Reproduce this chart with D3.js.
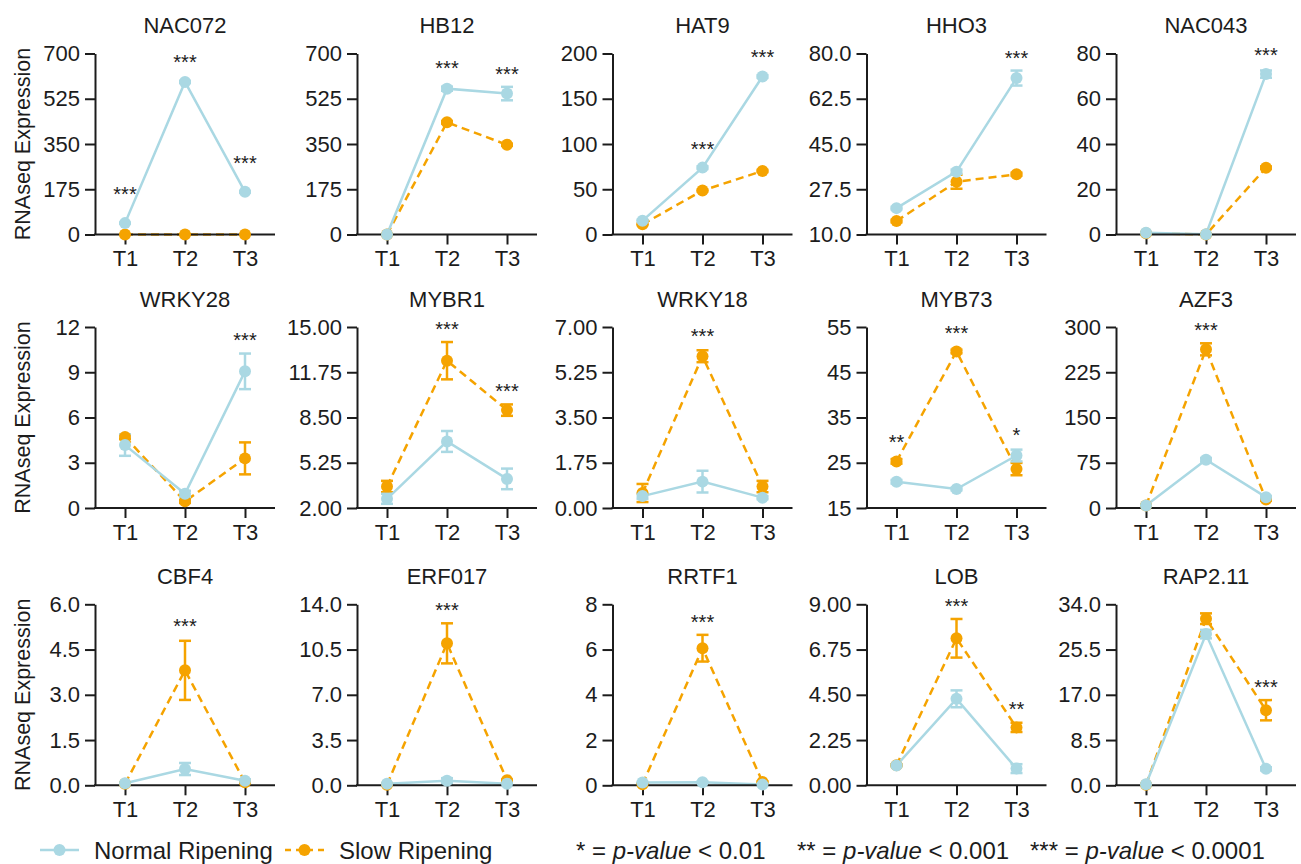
<!DOCTYPE html>
<html>
<head>
<meta charset="utf-8">
<script src="https://d3js.org/d3.v7.min.js"></script>
<style>
  body { margin: 0; background: #fff; }
  svg { display: block; font-family: "Liberation Sans", Arial, Helvetica, sans-serif; }
</style>
</head>
<body>
<svg id="chart" width="1301" height="864"></svg>
<script>
// ---- data ----
const genes = ["NAC072", "HB12", "HAT9", "HHO3", "NAC043",
               "WRKY28", "MYBR1", "WRKY18", "MYB73", "AZF3",
               "CBF4", "ERF017", "RRTF1", "LOB", "RAP2.11"];
const timepoints = ["T1", "T2", "T3"];

const normalMean = [
  [44, 590, 165], [0, 564, 545], [15.3, 73.9, 174.6], [20.2, 34.3, 70.5], [0.8, 0.1, 70.9],
  [4.17, 0.94, 9.06], [2.66, 6.78, 4.09], [0.46, 1.02, 0.40], [20.8, 19.2, 26.6], [4.3, 80, 18],
  [0.07, 0.54, 0.15], [0.12, 0.35, 0.12], [0.12, 0.13, 0.03], [0.99, 4.30, 0.83], [0.2, 28.4, 3.1]
];
const normalErr = [
  [2, 4, 3], [0, 8, 26], [1, 1.5, 1.5], [0.5, 0.8, 2.9], [0.3, 0.1, 1.6],
  [0.71, 0.2, 1.18], [0.36, 0.75, 0.74], [0.1, 0.42, 0.06], [0.4, 0.3, 1.3], [1, 3, 2],
  [0.02, 0.2, 0.05], [0.05, 0.2, 0.05], [0.03, 0.04, 0.02], [0.05, 0.42, 0.22], [0.1, 0.8, 0.3]
];
const slowMean = [
  [0, 0, 0], [0, 434, 347], [11.2, 48.6, 70.2], [15.2, 30.4, 33.3], [0.5, 0, 29.5],
  [4.71, 0.44, 3.29], [3.54, 12.58, 9.03], [0.58, 5.87, 0.83], [25.3, 49.6, 23.6], [4, 263, 14],
  [0.05, 3.81, 0.1], [0.05, 10.98, 0.4], [0.05, 6.06, 0.15], [1.0, 7.31, 2.88], [0.1, 31.3, 14.1]
];
const slowErr = [
  [0, 0, 0], [0, 5, 4], [0.8, 1, 1.2], [0.5, 2.7, 0.6], [0.1, 0, 0.6],
  [0.15, 0.1, 1.06], [0.41, 1.34, 0.41], [0.35, 0.23, 0.22], [0.5, 0.4, 1.36], [1, 10, 2],
  [0.02, 0.98, 0.02], [0.02, 1.55, 0.05], [0.02, 0.59, 0.03], [0.05, 0.96, 0.23], [0.05, 1.0, 1.9]
];

const yDomains = [
  [0, 700], [0, 700], [0, 200], [10, 80], [0, 80],
  [0, 12], [2, 15], [0, 7], [15, 55], [0, 300],
  [0, 6], [0, 14], [0, 8], [0, 9], [0, 34]
];
const yTicks = [
  [0, 175, 350, 525, 700], [0, 175, 350, 525, 700], [0, 50, 100, 150, 200],
  [10, 27.5, 45, 62.5, 80], [0, 20, 40, 60, 80],
  [0, 3, 6, 9, 12], [2, 5.25, 8.5, 11.75, 15], [0, 1.75, 3.5, 5.25, 7],
  [15, 25, 35, 45, 55], [0, 75, 150, 225, 300],
  [0, 1.5, 3, 4.5, 6], [0, 3.5, 7, 10.5, 14], [0, 2, 4, 6, 8],
  [0, 2.25, 4.5, 6.75, 9], [0, 8.5, 17, 25.5, 34]
];
const tickDecimals = [0, 0, 0, 1, 0, 0, 2, 2, 0, 0, 1, 1, 0, 2, 1];

// significance marks per timepoint, and the value level where each sits
const starLabels = [
  ["***", "***", "***"], ["", "***", "***"], ["", "***", "***"], ["", "", "***"], ["", "", "***"],
  ["", "", "***"], ["", "***", "***"], ["", "***", ""], ["**", "***", "*"], ["", "***", ""],
  ["", "***", ""], ["", "***", ""], ["", "***", ""], ["", "***", "**"], ["", "", "***"]
];
const starLevels = [
  [175, 686, 296], [0, 662, 640], [0, 100, 200.8], [0, 0, 80], [0, 0, 81.4],
  [0, 0, 11.47], [0, 15.16, 10.7], [0, 6.83, 0], [30.6, 54.6, 32.1], [0, 303, 0],
  [0, 5.42, 0], [0, 13.9, 0], [0, 7.41, 0], [0, 9.13, 4.0], [0, 0, 19.3]
];

const seriesNames = ["Normal Ripening", "Slow Ripening"];
const pLabels = [["*", "0.01"], ["**", "0.001"], ["***", "0.0001"]];

// ---- layout ----
const svg = d3.select("#chart");
const colX = [95, 357, 612.5, 866.5, 1116];
const rowY = [53.5, 327, 604.3];
const plotW = 180, plotH = 181;
const blue = "#aad8e3", orange = "#f5a300", ink = "#1c1c1c";
const fontSize = 22;

const x = d3.scalePoint().domain(timepoints).range([0, plotW]).padding(0.5);

genes.forEach((gene, i) => {
  const col = i % 5, row = Math.floor(i / 5);
  const g = svg.append("g").attr("transform", `translate(${colX[col]},${rowY[row]})`);
  const y = d3.scaleLinear().domain(yDomains[i]).range([plotH, 0]);

  // title
  g.append("text")
    .attr("x", plotW / 2).attr("y", -28)
    .attr("dy", "0.36em")
    .attr("text-anchor", "middle")
    .style("font-size", fontSize + "px")
    .attr("fill", ink)
    .text(gene);

  // series: slow first, normal on top
  const series = [
    { mean: slowMean[i], err: slowErr[i], color: orange, dash: "8,5" },
    { mean: normalMean[i], err: normalErr[i], color: blue, dash: null }
  ].map(s => ({ ...s, pts: timepoints.map((t, k) => ({ t, v: s.mean[k], e: s.err[k] })) }));

  // lines and error bars sit under the axes
  const under = g.append("g");
  series.forEach(s => {
    const line = d3.line().x(d => x(d.t)).y(d => y(d.v));
    under.append("path").datum(s.pts)
      .attr("d", line)
      .attr("fill", "none")
      .attr("stroke", s.color)
      .attr("stroke-width", 2.5)
      .attr("stroke-dasharray", s.dash);

    const eb = under.append("g").selectAll("g").data(s.pts.filter(d => d.e > 0)).join("g")
      .attr("stroke", s.color).attr("stroke-width", 2.5);
    eb.append("line")
      .attr("x1", d => x(d.t)).attr("x2", d => x(d.t))
      .attr("y1", d => y(d.v - d.e)).attr("y2", d => y(d.v + d.e));
    eb.append("line")
      .attr("x1", d => x(d.t) - 6).attr("x2", d => x(d.t) + 6)
      .attr("y1", d => y(d.v + d.e)).attr("y2", d => y(d.v + d.e));
    eb.append("line")
      .attr("x1", d => x(d.t) - 6).attr("x2", d => x(d.t) + 6)
      .attr("y1", d => y(d.v - d.e)).attr("y2", d => y(d.v - d.e));
  });

  // axes
  const yAxis = d3.axisLeft(y).tickValues(yTicks[i]).tickSize(10).tickSizeOuter(0)
    .tickPadding(5).tickFormat(d3.format("." + tickDecimals[i] + "f"));
  const xAxis = d3.axisBottom(x).tickSize(10).tickSizeOuter(0).tickPadding(6);

  const ya = g.append("g").call(yAxis);
  const xa = g.append("g").attr("transform", `translate(0,${plotH})`).call(xAxis);
  [ya, xa].forEach(a => {
    a.selectAll("path, line").attr("stroke", ink).attr("stroke-width", 2);
    a.selectAll("text").style("font-size", fontSize + "px").attr("fill", ink)
      .style("font-family", "'Liberation Sans', Arial, sans-serif");
  });
  xa.select("path").attr("d", `M-1,0H${plotW}`);

  // points on top
  series.forEach(s => {
    g.append("g").selectAll("circle").data(s.pts).join("circle")
      .attr("cx", d => x(d.t)).attr("cy", d => y(d.v))
      .attr("r", 6).attr("fill", s.color);
  });

  // significance stars
  const marks = timepoints.map((t, k) => ({ t, label: starLabels[i][k], level: starLevels[i][k] }))
    .filter(d => d.label);
  g.append("g").selectAll("text").data(marks).join("text")
    .attr("x", d => x(d.t)).attr("y", d => y(d.level))
    .attr("dy", "0.58em")
    .attr("text-anchor", "middle")
    .style("font-size", "20px")
    .attr("fill", ink)
    .text(d => d.label);
});

// y axis labels, one per row
rowY.forEach(ry => {
  svg.append("text")
    .attr("transform", `translate(22,${ry + plotH / 2}) rotate(-90)`)
    .attr("dy", "0.36em")
    .attr("text-anchor", "middle")
    .style("font-size", "21.5px")
    .attr("fill", ink)
    .text("RNAseq Expression");
});

// legend
const legY = 850;
const legendItems = [
  { name: seriesNames[0], color: blue, dash: null, x0: 40, tx: 94 },
  { name: seriesNames[1], color: orange, dash: "6,5", x0: 285, tx: 339 }
];
legendItems.forEach(l => {
  const lg = svg.append("g");
  lg.append("line").attr("x1", l.x0).attr("x2", l.x0 + 39).attr("y1", legY).attr("y2", legY)
    .attr("stroke", l.color).attr("stroke-width", 2.5).attr("stroke-dasharray", l.dash);
  lg.append("circle").attr("cx", l.x0 + 19.5).attr("cy", legY).attr("r", 6).attr("fill", l.color);
  lg.append("text").attr("x", l.tx).attr("y", legY).attr("dy", "0.36em")
    .style("font-size", "24px").attr("fill", ink).text(l.name);
});

const pX = [576, 797, 1030];
pLabels.forEach((p, k) => {
  const t = svg.append("text").attr("x", pX[k]).attr("y", legY).attr("dy", "0.36em")
    .style("font-size", "24px").attr("fill", ink);
  t.append("tspan").text(p[0] + " = ");
  t.append("tspan").style("font-style", "italic").text("p-value");
  t.append("tspan").text(" < " + p[1]);
});
</script>
</body>
</html>
